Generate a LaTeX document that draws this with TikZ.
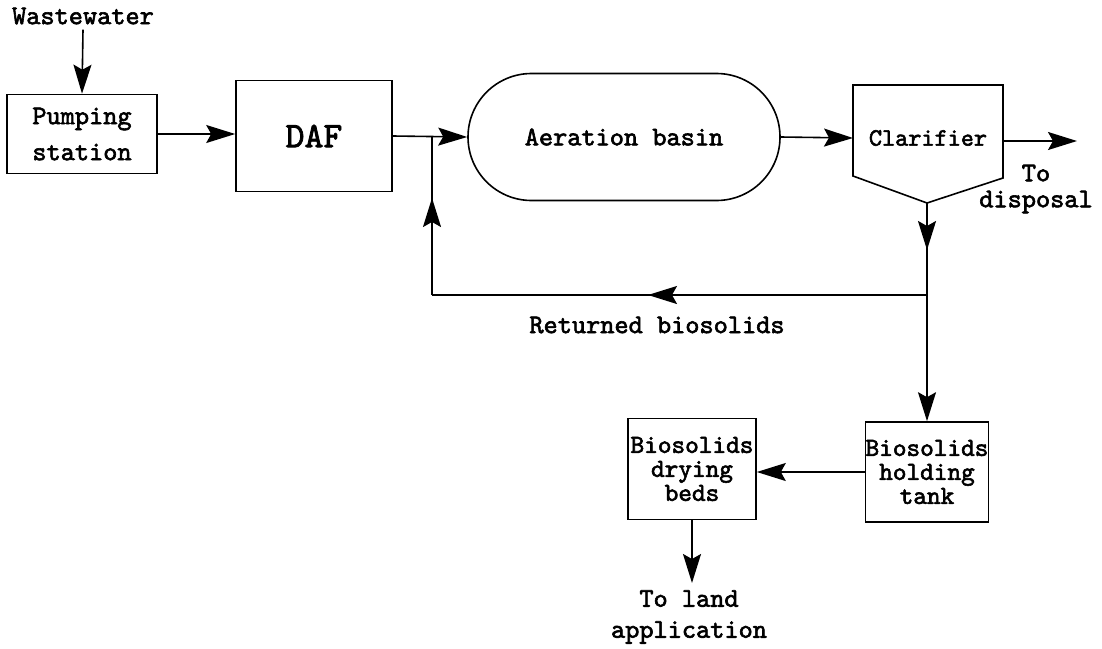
\documentclass[tikz,border=0pt]{standalone}
\usepackage{fontspec}
\newfontfamily\courb{lmmono10-regular}[Extension=.otf, FakeBold=2.2]
\usetikzlibrary{arrows.meta,shapes.misc,decorations.markings}
\begin{document}
\begin{tikzpicture}[x=1pt,y=-1pt,
  every node/.style={font=\courb\fontsize{27}{28}\selectfont, inner sep=0pt, align=center},
  box/.style={draw, line width=1.6pt},
  ln/.style={line width=1.6pt},
  tip/.tip={Stealth[length=29pt,width=18pt,inset=5pt]},
  arr/.style={ln, -tip},
  midarr/.style={ln, postaction={decorate}, decoration={markings, mark=at position #1 with {\arrow{tip}}}},
  small/.style={font=\courb\fontsize{26}{24}\selectfont}
]
\useasboundingbox (0,0) rectangle (1102,648);
% nodes
\node (ww) at (83,16) {Wastewater};
\node[box, minimum width=150pt, minimum height=79pt] (pump) at (82,134) {Pumping\\[8pt]station};
\node[box, minimum width=156pt, minimum height=111pt, font=\courb\fontsize{36}{38}\selectfont] (daf) at (314,136) {DAF};
\node[box, rounded rectangle, minimum width=312pt, minimum height=127pt] (basin) at (624,137) {Aeration basin};
\node[font=\courb\fontsize{25}{26}\selectfont] (clar) at (928,138) {Clarifier};
\coordinate (cTL) at (853,85);
\coordinate (cTR) at (1003,85);
\coordinate (cR) at (1003,178);
\coordinate (cB) at (927,203);
\coordinate (cL) at (853,176);
\draw[box, line join=miter] (cTL) -- (cTR) -- (cR) -- (cB) -- (cL) -- cycle;
\coordinate (clarIn) at (853,138);
\coordinate (clarOut) at (1003,141);
\coordinate (dispEnd) at (1077,141);
\node (disp) at (1036,189) {To\\[-2pt]disposal};
\coordinate (j1) at (432,136);
\coordinate (j2) at (927,295);
\coordinate (cr) at (432,295);
\node (ret) at (657,325) {Returned biosolids};
\node[box, small, minimum width=121pt, minimum height=100pt] (tank) at (927,472) {Biosolids\\holding\\tank};
\node[box, small, minimum width=128pt, minimum height=101pt] (beds) at (692,469) {Biosolids\\drying\\beds};
\coordinate (landEnd) at (692,583);
\node (land) at (689,617) {To land\\[3pt]application};
% connectors
\draw[arr] (ww.south) ++(0,5) -- (pump.north);
\draw[arr] (pump.east) -- (pump.east -| daf.west);
\draw[arr] (daf.east) -- (basin.west);
\draw[arr] (basin.east) -- (clarIn);
\draw[arr] (clarOut) -- (dispEnd);
\draw[midarr=47pt] (cB) -- (j2);
\draw[midarr=279pt] (j2) -- (cr);
\draw[midarr=97pt] (cr) -- (j1);
\draw[arr] (j2) -- (tank.north);
\draw[arr] (tank.west) -- (tank.west -| beds.east);
\draw[arr] (beds.south) -- (landEnd);
\end{tikzpicture}
\end{document}
